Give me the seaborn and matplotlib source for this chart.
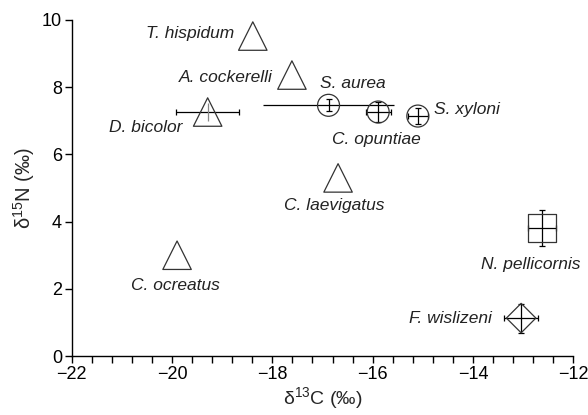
import pandas as pd
import matplotlib
matplotlib.use("Agg")
import matplotlib.pyplot as plt
from matplotlib.ticker import MultipleLocator
import seaborn as sns

# values
species = ["T. hispidum", "A. cockerelli", "D. bicolor", "S. aurea", "C. opuntiae",
           "S. xyloni", "C. laevigatus", "C. ocreatus", "N. pellicornis", "F. wislizeni"]
d13c = [-18.39, -17.61, -19.29, -16.88, -15.89, -15.10, -16.69, -19.90, -12.62, -13.04]
d15n = [9.52, 8.36, 7.26, 7.46, 7.26, 7.14, 5.30, 3.00, 3.81, 1.13]
x_err = [0, 0, 0.63, 1.30, 0.25, 0.20, 0, 0, 0.28, 0.34]
y_err = [0, 0, 0.27, 0.18, 0.30, 0.25, 0, 0, 0.54, 0.43]
group = ["tri", "tri", "tri", "circ", "circ", "circ", "tri", "tri", "sq", "dia"]

df = pd.DataFrame({"species": species, "d13C": d13c, "d15N": d15n,
                   "xerr": x_err, "yerr": y_err, "group": group})

# label offsets (points) and alignment relative to each marker
label_pos = {
    "T. hispidum": (-13, 2, "right"),
    "A. cockerelli": (-14, -2, "right"),
    "D. bicolor": (-18, -11, "right"),
    "S. aurea": (-6, 16, "left"),
    "C. opuntiae": (-1, -20, "center"),
    "S. xyloni": (12, 5, "left"),
    "C. laevigatus": (-3, -20, "center"),
    "C. ocreatus": (-1, -22, "center"),
    "N. pellicornis": (-8, -26, "center"),
    "F. wislizeni": (-21, 0, "right"),
}

sns.set_style("ticks")
plt.rcParams["font.family"] = ["Liberation Sans", "DejaVu Sans"]
plt.rcParams["mathtext.fontset"] = "custom"
plt.rcParams["mathtext.rm"] = "Liberation Sans"
plt.rcParams["mathtext.it"] = "Liberation Sans:italic"

fig = plt.figure(figsize=(5.88, 4.15), dpi=100)
ax = fig.add_axes([0.122, 0.142, 0.853, 0.810])

# error bars first, markers are hollow on top
for _, r in df.iterrows():
    if r["xerr"] > 0:
        cap = 0 if r["species"] == "S. aurea" else 2.5
        ax.errorbar(r["d13C"], r["d15N"], xerr=r["xerr"], fmt="none",
                    ecolor="black", elinewidth=0.9, capsize=cap, capthick=0.9)
    if r["yerr"] > 0:
        ycol = "#888888" if r["species"] == "D. bicolor" else "black"
        ax.errorbar(r["d13C"], r["d15N"], yerr=r["yerr"], fmt="none",
                    ecolor=ycol, elinewidth=0.9,
                    capsize=0 if r["species"] == "D. bicolor" else 2.5, capthick=0.9)

sns.scatterplot(data=df, x="d13C", y="d15N", style="group", size="group",
                markers={"tri": "^", "circ": "o", "sq": "s", "dia": "D"},
                sizes={"tri": 420, "circ": 250, "sq": 400, "dia": 225},
                facecolor="none", edgecolor="#333333", linewidth=0.9,
                legend=False, ax=ax, zorder=3)

for _, r in df.iterrows():
    dx, dy, ha = label_pos[r["species"]]
    ax.annotate(r["species"], (r["d13C"], r["d15N"]), xytext=(dx, dy),
                textcoords="offset points", ha=ha, va="center",
                fontsize=12.5, style="italic", color="#222222")

ax.set_xlim(-22, -12)
ax.set_ylim(0, 10)
ax.set_xticks([-22, -20, -18, -16, -14, -12])
ax.set_yticks([0, 2, 4, 6, 8, 10])
ax.xaxis.set_minor_locator(MultipleLocator(0.4))
ax.tick_params(axis="both", which="both", direction="out", length=5, width=1,
               labelsize=13, colors="black", pad=2)
ax.tick_params(axis="x", which="minor", length=5)
for s in ["left", "bottom"]:
    ax.spines[s].set_linewidth(1)
    ax.spines[s].set_color("black")
sns.despine(ax=ax)

ax.set_xlabel("δ$^{13}$C (‰)", fontsize=14, labelpad=2)
ax.set_ylabel("δ$^{15}$N (‰)", fontsize=14.5)
ax.yaxis.set_label_coords(-0.07, 0.5)

fig.savefig("out.png", dpi=100)
